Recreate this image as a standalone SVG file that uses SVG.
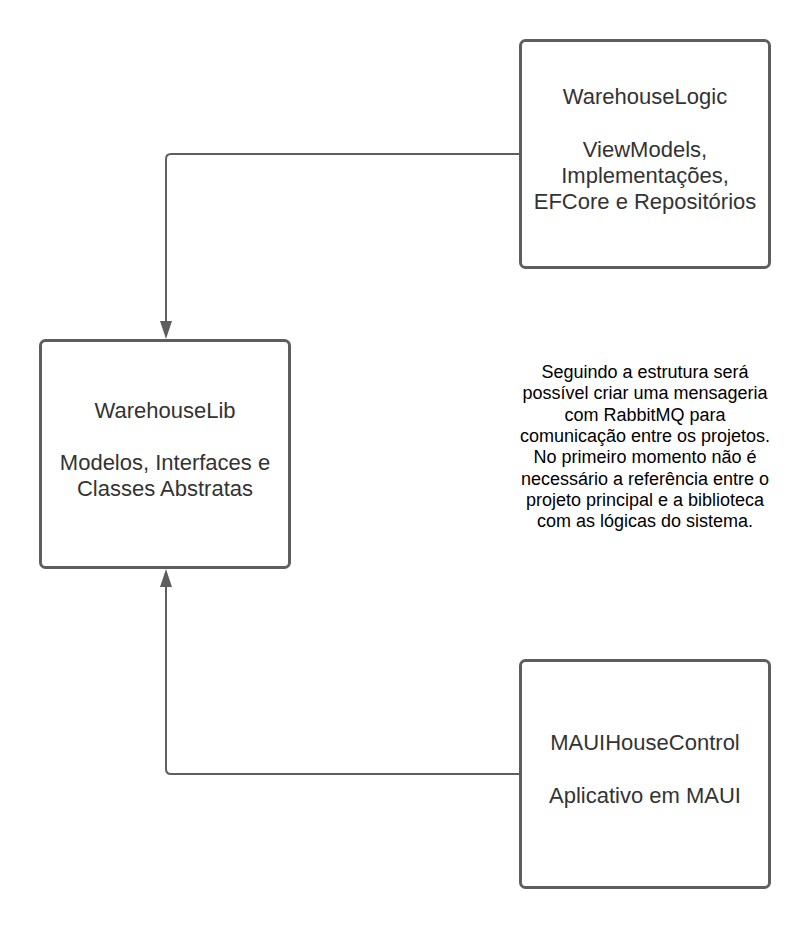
<svg xmlns="http://www.w3.org/2000/svg" width="811" height="928" viewBox="0 0 811 928">
<style>
.box{fill:#ffffff;stroke:#5e5e5e;stroke-width:3}
.lbl{font-family:"Liberation Sans",Arial,sans-serif;font-size:22px;fill:#333333;text-anchor:middle}
.note{font-family:"Liberation Sans",Arial,sans-serif;font-size:18px;fill:#000000;text-anchor:middle}
.conn{fill:none;stroke:#5e5e5e;stroke-width:2}
</style>
<defs>
<marker id="arrow" viewBox="0 0 12 18" refX="12" refY="9" markerWidth="12" markerHeight="18" markerUnits="userSpaceOnUse" orient="auto">
<path d="M0,3 L12,9 L0,15 Z" fill="#5e5e5e"/>
</marker>
</defs>
<rect width="811" height="928" fill="#ffffff"/>
<g id="connectors">
<path class="conn" d="M520,154 L171,154 Q166,154 166,159 L166,321"/>
<path d="M160,321 L172,321 L166,339 Z" fill="#5e5e5e"/>
<path class="conn" d="M520,774 L171,774 Q166,774 166,769 L166,587"/>
<path d="M160,587 L172,587 L166,569 Z" fill="#5e5e5e"/>
</g>
<g id="WarehouseLogic">
<rect class="box" x="520.5" y="40.5" width="249" height="227" rx="5"/>
<text class="lbl" x="645" y="104">WarehouseLogic</text>
<text class="lbl" x="645" y="157">ViewModels,</text>
<text class="lbl" x="645" y="183">Implementações,</text>
<text class="lbl" x="645" y="209">EFCore e Repositórios</text>
</g>
<g id="WarehouseLib">
<rect class="box" x="40.5" y="340.5" width="249" height="227" rx="5"/>
<text class="lbl" x="165" y="418">WarehouseLib</text>
<text class="lbl" x="165" y="470">Modelos, Interfaces e</text>
<text class="lbl" x="165" y="496">Classes Abstratas</text>
</g>
<g id="MAUIHouseControl">
<rect class="box" x="520.5" y="660.5" width="249" height="227" rx="5"/>
<text class="lbl" x="645" y="750">MAUIHouseControl</text>
<text class="lbl" x="645" y="803">Aplicativo em MAUI</text>
</g>
<g id="note">
<text class="note" x="645" y="378">Seguindo a estrutura será</text>
<text class="note" x="645" y="399.3">possível criar uma mensageria</text>
<text class="note" x="645" y="420.6">com RabbitMQ para</text>
<text class="note" x="645" y="441.9">comunicação entre os projetos.</text>
<text class="note" x="645" y="463.2">No primeiro momento não é</text>
<text class="note" x="645" y="484.5">necessário a referência entre o</text>
<text class="note" x="645" y="505.8">projeto principal e a biblioteca</text>
<text class="note" x="645" y="527.1">com as lógicas do sistema.</text>
</g>
</svg>
